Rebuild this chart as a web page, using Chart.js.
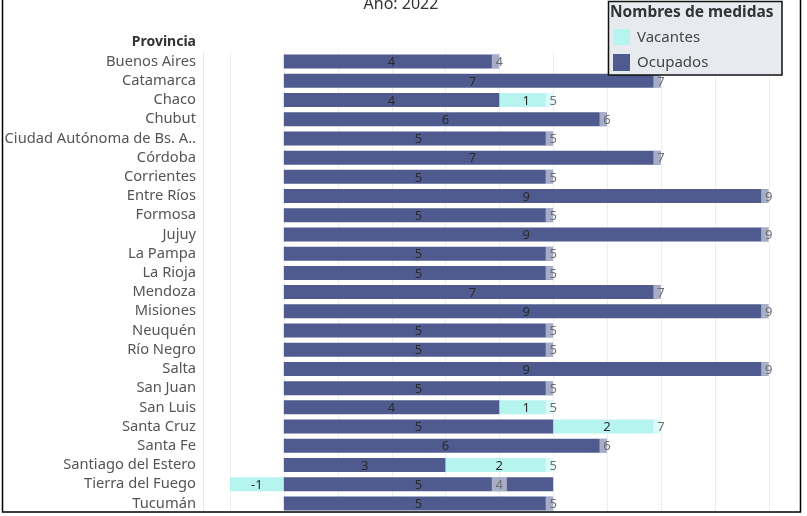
<!DOCTYPE html>
<html>
<head>
<meta charset="utf-8">
<script src="https://cdn.jsdelivr.net/npm/chart.js@4"></script>
<style>
html,body{margin:0;padding:0;background:#fff;}
#wrap{width:807px;height:516px;position:relative;}
</style>
</head>
<body>
<div id="wrap"><canvas id="c" width="807" height="516"></canvas></div>
<script>
const provincias = ["Buenos Aires","Catamarca","Chaco","Chubut","Ciudad Autónoma de Bs. A..","Córdoba","Corrientes","Entre Ríos","Formosa","Jujuy","La Pampa","La Rioja","Mendoza","Misiones","Neuquén","Río Negro","Salta","San Juan","San Luis","Santa Cruz","Santa Fe","Santiago del Estero","Tierra del Fuego","Tucumán"];
const ocupados = [4,7,4,6,5,7,5,9,5,9,5,5,7,9,5,5,9,5,4,5,6,3,5,5];
const vacantes = [0,0,1,0,0,0,0,0,0,0,0,0,0,0,0,0,0,0,1,2,0,2,-1,0];
const totales = [4,7,5,6,5,7,5,9,5,9,5,5,7,9,5,5,9,5,5,7,6,5,4,5];
const gridTicks = [-1,0,1,2,3,4,5,6,7,8,9];

const DARK = '#4f5b8e';
const CYAN = '#b6f4f0';
const MARK_HALF = 0.14;
const FONT = "'Noto Sans', 'Open Sans', sans-serif";

const labelPlugin = {
  id: 'labels',
  beforeDatasetsDraw(chart) {
    const ctx = chart.ctx, xs = chart.scales.x, a = chart.chartArea;
    ctx.save();
    ctx.strokeStyle = '#eeeeee';
    ctx.lineWidth = 1;
    gridTicks.forEach(v => {
      const px = Math.round(xs.getPixelForValue(v)) + 0.5;
      ctx.beginPath(); ctx.moveTo(px, a.top); ctx.lineTo(px, a.bottom); ctx.stroke();
    });
    ctx.strokeStyle = '#e6e6e6';
    ctx.beginPath(); ctx.moveTo(a.left + 0.5, a.top); ctx.lineTo(a.left + 0.5, a.bottom); ctx.stroke();
    ctx.restore();
  },
  afterDatasetsDraw(chart) {
    const ctx = chart.ctx;
    ctx.save();
    ctx.textAlign = 'center';
    ctx.textBaseline = 'middle';
    ctx.font = '13px ' + FONT;
    chart.data.datasets.forEach((ds, di) => {
      const meta = chart.getDatasetMeta(di);
      meta.data.forEach((el, i) => {
        let v, color;
        if (di === 0) { v = ocupados[i]; color = '#2b2b2b'; }
        else if (di === 1) { v = vacantes[i]; color = '#2b2b2b'; if (v === 0) return; }
        else { v = totales[i]; color = '#6e6e6e'; }
        const cx = (el.x + el.base) / 2;
        ctx.fillStyle = color;
        ctx.fillText(String(v), cx, el.y + 1);
      });
    });
    ctx.restore();
  },
  afterDraw(chart) {
    const ctx = chart.ctx;
    ctx.save();
    ctx.fillStyle = '#333';
    ctx.font = '16px ' + FONT;
    ctx.textAlign = 'center';
    ctx.textBaseline = 'middle';
    ctx.fillText('Año: 2022', 401, 4);
    ctx.font = 'bold 14px ' + FONT;
    ctx.textAlign = 'right';
    ctx.fillStyle = '#333';
    ctx.fillText('Provincia', 196, 42);
    ctx.strokeStyle = '#000';
    ctx.lineWidth = 1.5;
    ctx.beginPath();
    ctx.moveTo(2.5, 0); ctx.lineTo(2.5, 512);
    ctx.lineTo(800.5, 512); ctx.lineTo(800.5, 0);
    ctx.stroke();
    ctx.fillStyle = '#e7ebf0';
    ctx.fillRect(608, 1, 174, 74);
    ctx.lineWidth = 1.5;
    ctx.strokeStyle = '#111';
    ctx.strokeRect(608.5, 1.5, 173.5, 73.5);
    ctx.fillStyle = '#333';
    ctx.font = 'bold 15.5px ' + FONT;
    ctx.textAlign = 'left';
    ctx.fillText('Nombres de medidas', 610, 13);
    ctx.fillStyle = CYAN;
    ctx.fillRect(613, 29, 17, 16);
    ctx.fillStyle = DARK;
    ctx.fillRect(613, 54, 17, 17);
    ctx.fillStyle = '#444';
    ctx.font = '15px ' + FONT;
    ctx.fillText('Vacantes', 637, 38);
    ctx.fillText('Ocupados', 637, 63);
    ctx.restore();
  }
};

new Chart(document.getElementById('c'), {
  type: 'bar',
  data: {
    labels: provincias,
    datasets: [
      { label: 'Ocupados', data: ocupados, backgroundColor: DARK, stack: 'm', order: 1 },
      { label: 'Vacantes', data: vacantes, backgroundColor: CYAN, stack: 'm', order: 2 },
      { label: 'Total', data: totales.map(t => [t - MARK_HALF, t + MARK_HALF]), backgroundColor: 'rgba(255,255,255,0.5)', stack: 't', order: 0 }
    ]
  },
  options: {
    indexAxis: 'y',
    responsive: false,
    animation: false,
    layout: { padding: { top: 52, bottom: 3, right: 6, left: 0 } },
    datasets: { bar: { grouped: false, barPercentage: 0.73, categoryPercentage: 1 } },
    plugins: { legend: { display: false }, tooltip: { enabled: false } },
    scales: {
      x: {
        display: false,
        stacked: true,
        min: -1.5, max: 9.6
      },
      y: {
        stacked: true,
        afterFit: s => { s.width = 203; s.paddingTop = 0; s.paddingBottom = 0; },
        grid: { display: false, drawTicks: false },
        border: { display: false },
        ticks: { color: '#555', font: { family: FONT, size: 14.7 }, padding: 7, autoSkip: false }
      }
    }
  },
  plugins: [labelPlugin]
});
</script>
</body>
</html>
